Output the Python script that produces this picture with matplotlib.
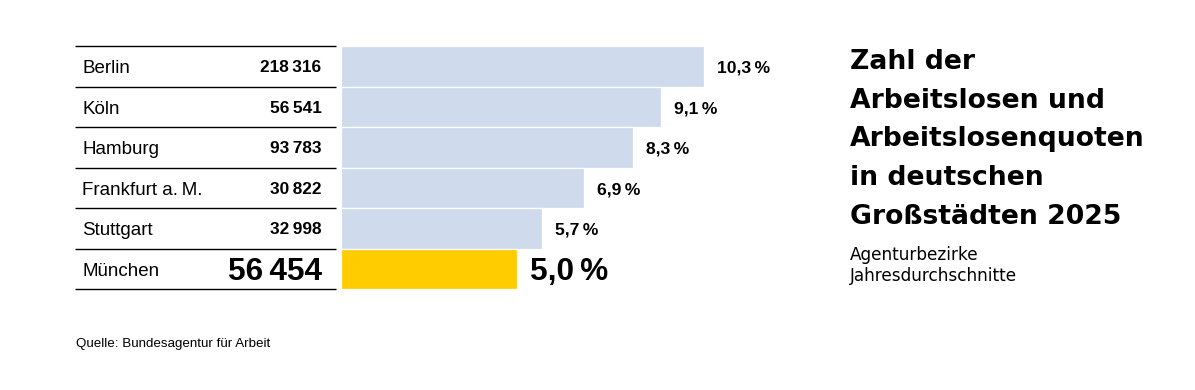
import matplotlib
matplotlib.use("Agg")
import matplotlib.pyplot as plt

# Data
cities = ["Berlin", "Köln", "Hamburg", "Frankfurt a.\u2009M.", "Stuttgart", "München"]
unemployed = ["218\u2009316", "56\u2009541", "93\u2009783", "30\u2009822", "32\u2009998", "56\u2009454"]
rates = [10.3, 9.1, 8.3, 6.9, 5.7, 5.0]
highlight = "München"

title_lines = ["Zahl der", "Arbeitslosen und", "Arbeitslosenquoten",
               "in deutschen", "Großstädten 2025"]
subtitle_lines = ["Agenturbezirke", "Jahresdurchschnitte"]
source = "Quelle: Bundesagentur für Arbeit"

blue = "#cfdbed"
yellow = "#ffcc00"
W, H = 1195, 390
body_font = ["Liberation Sans", "DejaVu Sans"]

fig = plt.figure(figsize=(W / 100, H / 100), dpi=100)
fig.patch.set_facecolor("white")

# pixel layout helpers
top_px, bottom_px = 46, 289
def fx(px):
    return px / W
def fy(px):
    return 1 - px / H

n = len(cities)
rows = list(range(n))

# table on the left
tab = fig.add_axes([fx(75), fy(bottom_px), fx(336 - 75), (bottom_px - top_px) / H])
tab.set_xlim(0, 1)
tab.set_ylim(n - 0.5, -0.5)
tab.axis("off")
tab.hlines([r - 0.5 for r in range(n + 1)], 0, 1, color="black", lw=1.0,
           clip_on=False)

for i, (city, num) in enumerate(zip(cities, unemployed)):
    big = city == highlight
    tab.annotate(city, xy=(0, i), xytext=(7.5, -6.8), textcoords="offset pixels",
                 ha="left", va="baseline", fontsize=13.5, family=body_font)
    size = 22.7 if big else 12.4
    cap = 22.7 if big else 12.0
    tab.annotate(num, xy=(1, i), xytext=(-14.5, -cap / 2), textcoords="offset pixels",
                 ha="right", va="baseline", fontsize=size, fontweight="bold",
                 family=body_font)

# bars
px_per_unit = 35.2
bar_w_px = 480
ax = fig.add_axes([fx(341), fy(bottom_px), fx(bar_w_px), (bottom_px - top_px) / H])
ax.set_xlim(0, bar_w_px / px_per_unit)
ax.set_ylim(n - 0.5, -0.5)
ax.axis("off")
colors = [yellow if c == highlight else blue for c in cities]
ax.barh(rows, rates, height=1.0, color=colors, edgecolor="white", linewidth=0.9)

for i, (city, v) in enumerate(zip(cities, rates)):
    big = city == highlight
    label = f"{v:.1f}".replace(".", ",") + "\u2009%"
    size = 22.7 if big else 12.6
    cap = 22.7 if big else 12.6
    ax.annotate(label, xy=(v, i), xytext=(13, -cap / 2), textcoords="offset pixels",
                ha="left", va="baseline", fontsize=size, fontweight="bold",
                family=body_font)

# title block on the right
title_base = [69, 107.5, 146, 185, 224]
for line, b in zip(title_lines, title_base):
    fig.text(fx(850), fy(b), line, ha="left", va="baseline", fontsize=19.2,
             fontweight="bold", family="DejaVu Sans")
for line, b in zip(subtitle_lines, [260, 281]):
    fig.text(fx(850), fy(b), line, ha="left", va="baseline", fontsize=12.2,
             family="DejaVu Sans")

fig.text(fx(76), fy(347), source, ha="left", va="baseline", fontsize=9.6,
         family=body_font)

fig.savefig("out.png", dpi=100, facecolor="white")
